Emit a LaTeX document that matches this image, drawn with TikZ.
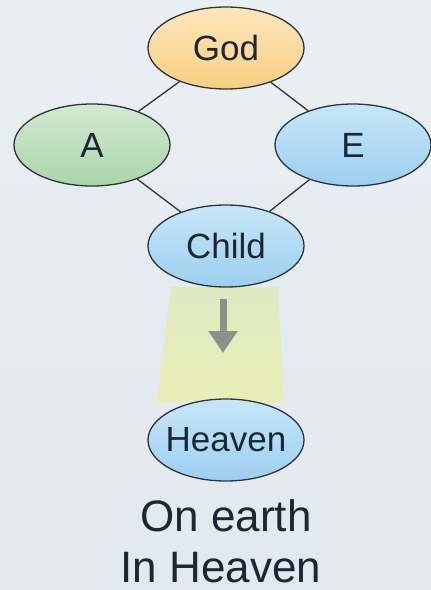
\documentclass[tikz,border=0pt]{standalone}
\usepackage{fontspec}
\setmainfont{Liberation Sans}
\usepackage{tikz}
\usetikzlibrary{shapes.geometric, arrows.meta}
\definecolor{bgtop}{HTML}{E9EFF3}
\definecolor{bgbot}{HTML}{E1E9EF}
\definecolor{godtop}{HTML}{FDE6BC}
\definecolor{godbot}{HTML}{F8CF82}
\definecolor{atop}{HTML}{D2EAD2}
\definecolor{abot}{HTML}{A9D6A9}
\definecolor{bluetop}{HTML}{C8E6F8}
\definecolor{bluebot}{HTML}{9CCFEF}
\definecolor{beamtop}{HTML}{DDEAC2}
\definecolor{beambot}{HTML}{E9EEB6}
\definecolor{rim}{HTML}{2E3438}
\definecolor{ink}{HTML}{1C2733}
\definecolor{arrowgray}{HTML}{8C908A}

\begin{document}
\begin{tikzpicture}[x=1pt, y=-1pt,
    bubble/.style={ellipse, draw=rim, line width=1.3pt, inner ysep=0pt,
        inner xsep=-8pt, minimum width=156pt, minimum height=82pt, text=ink,
        font=\fontsize{35}{40}\selectfont},
    godfill/.style={top color=godtop, bottom color=godbot},
    afill/.style={top color=atop, bottom color=abot},
    bluefill/.style={top color=bluetop, bottom color=bluebot},
    link/.style={draw=rim, line width=1.3pt},
    caption/.style={text=ink, anchor=base, inner sep=0pt,
        font=\fontsize{44}{50}\selectfont}]
    % background
    \fill[top color=bgtop, bottom color=bgbot] (0,0) rectangle (431,590);
    \useasboundingbox (0,0) rectangle (431,590);
    % light beam
    \shade[top color=beamtop, bottom color=beambot]
        (171,287) -- (278,287) -- (284,402) -- (157,402) -- cycle;
    \node[bubble, godfill](god)      at (226,48)  {God};
    \node[bubble, afill](a)          at (92,145)  {A};
    \node[bubble, bluefill](e)       at (353,145) {E};
    \node[bubble, bluefill](child)   at (226,246) {Child};
    \node[bubble, bluefill](heaven)  at (226,440) {Heaven};
    \node[caption](onearth)          at (226,531) {On earth};
    \node[caption](inheaven)         at (221,582) {In Heaven};
    \coordinate (arrtop) at (223,299);
    \coordinate (arrtip) at (223,353);
    % Links
    \path
        (god)
            edge [link] (a)
            edge [link] (e)
        (child)
            edge [link] (a)
            edge [link] (e)
        ;
    \draw[draw=arrowgray, line width=7pt, -{Triangle[width=28pt, length=22pt]}]
        (arrtop) -- (arrtip);
\end{tikzpicture}
\end{document}
